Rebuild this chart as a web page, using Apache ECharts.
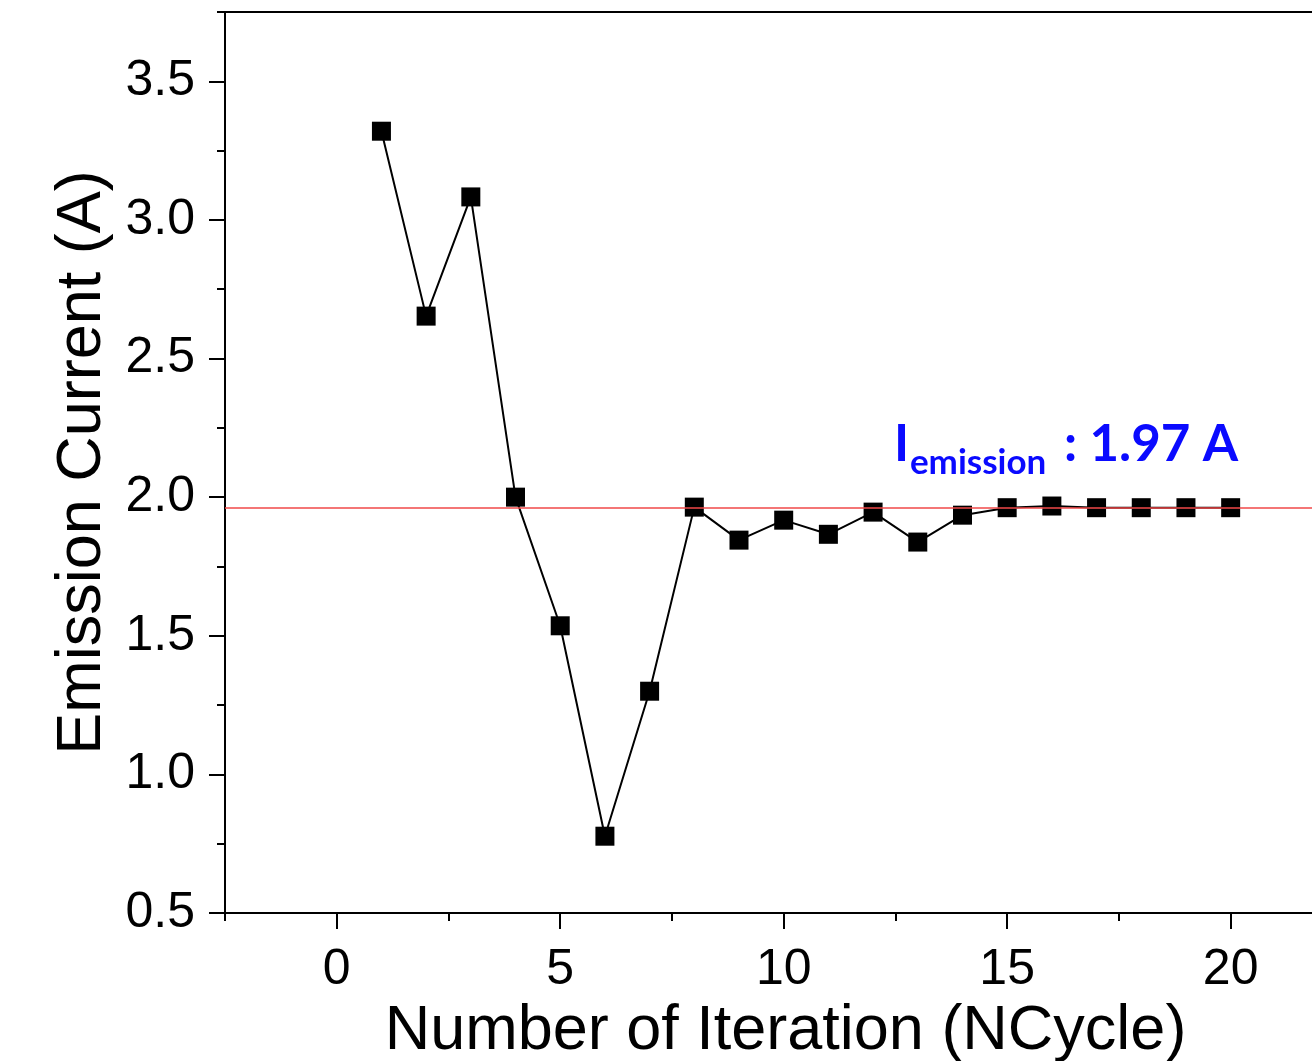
<!DOCTYPE html>
<html>
<head>
<meta charset="utf-8">
<script src="https://cdn.jsdelivr.net/npm/echarts@6/dist/echarts.min.js"></script>
<style>
  html, body { margin: 0; padding: 0; background: #fff; overflow: hidden; }
  #container { width: 1312px; height: 1061px; }
</style>
</head>
<body>
<div id="container"></div>
<script>
var dom = document.getElementById("container");
var myChart = echarts.init(dom);
var option;

// data
var iterations = [1, 2, 3, 4, 5, 6, 7, 8, 9, 10, 11, 12, 13, 14, 15, 16, 17, 18, 19, 20];
var current = [3.32, 2.653, 3.083, 2.0, 1.536, 0.777, 1.30, 1.964, 1.845, 1.917, 1.866, 1.946, 1.838, 1.935, 1.962, 1.968, 1.962, 1.962, 1.962, 1.962];
var emissionLevel = 1.963;
var emissionParts = ["I", "emission", ": 1.97 A"];

var xMajor = [0, 5, 10, 15, 20];
var xMinor = [-2.5, 2.5, 7.5, 12.5, 17.5];
var yMajor = [0.5, 1.0, 1.5, 2.0, 2.5, 3.0, 3.5];
var yMinor = [0.75, 1.25, 1.75, 2.25, 2.75, 3.25, 3.75];

var xMin = -2.5, xMax = 21.82;
var yMin = 0.5, yMax = 3.75;

var points = iterations.map(function (x, i) {
    return [x, current[i]];
});

var font = "Liberation Sans";
var blue = "#0a0aff";
var gridBox = { left: 225, right: 0, top: 12, bottom: 148, outerBoundsMode: "none", containLabel: false };

function noteLabel(text, size) {
    return {
        show: true,
        position: "right",
        distance: 0,
        formatter: text,
        fontFamily: "Lato",
        fontWeight: "bold",
        fontSize: size,
        color: blue,
    };
}

option = {
    backgroundColor: "#fff",
    animation: false,
    textStyle: { fontFamily: font },
    grid: [
        Object.assign({}, gridBox),
        Object.assign({}, gridBox),
    ],
    xAxis: [
        {
            gridIndex: 0,
            type: "value",
            position: "bottom",
            min: xMin,
            max: xMax,
            name: "Number of Iteration (NCycle)",
            nameLocation: "middle",
            nameGap: 84,
            nameTextStyle: { fontSize: 63, color: "#000", fontFamily: font, padding: [0, 0, 0, 34] },
            axisLine: { onZero: false, lineStyle: { color: "#000", width: 2 } },
            axisTick: { inside: false, length: 16, customValues: xMajor, lineStyle: { color: "#000", width: 2 } },
            axisLabel: { customValues: xMajor, margin: 32, fontSize: 50, color: "#000", fontFamily: font },
            splitLine: { show: false },
        },
        {
            gridIndex: 0,
            type: "value",
            position: "top",
            min: xMin,
            max: xMax,
            axisLine: { onZero: false, lineStyle: { color: "#000", width: 2 } },
            axisTick: { show: false },
            axisLabel: { show: false },
            splitLine: { show: false },
        },
        {
            gridIndex: 1,
            type: "value",
            position: "bottom",
            min: xMin,
            max: xMax,
            axisLine: { show: false, onZero: false },
            axisTick: { inside: false, length: 8, customValues: xMinor, lineStyle: { color: "#000", width: 2 } },
            axisLabel: { show: false },
            splitLine: { show: false },
        },
    ],
    yAxis: [
        {
            gridIndex: 0,
            type: "value",
            position: "left",
            min: yMin,
            max: yMax,
            name: "Emission Current (A)",
            nameLocation: "middle",
            nameGap: 110,
            nameTextStyle: { fontSize: 63, color: "#000", fontFamily: font },
            axisLine: { show: true, onZero: false, lineStyle: { color: "#000", width: 2 } },
            axisTick: { show: true, inside: false, length: 16, customValues: yMajor, lineStyle: { color: "#000", width: 2 } },
            axisLabel: {
                customValues: yMajor,
                margin: 30,
                fontSize: 50,
                color: "#000",
                fontFamily: font,
                formatter: function (v) { return v.toFixed(1); },
            },
            splitLine: { show: false },
        },
        {
            gridIndex: 1,
            type: "value",
            position: "left",
            min: yMin,
            max: yMax,
            axisLine: { show: false, onZero: false },
            axisTick: { show: true, inside: false, length: 8, customValues: yMinor, lineStyle: { color: "#000", width: 2 } },
            axisLabel: { show: false },
            splitLine: { show: false },
        },
    ],
    series: [
        {
            type: "line",
            xAxisIndex: 0,
            yAxisIndex: 0,
            data: points,
            symbol: "rect",
            symbolSize: 19,
            itemStyle: { color: "#000" },
            lineStyle: { color: "#000", width: 2 },
            markLine: {
                silent: true,
                symbol: "none",
                z: 5,
                label: { show: false },
                lineStyle: { color: "#f04848", width: 1.5, type: "solid" },
                data: [{ yAxis: emissionLevel }],
            },
            markPoint: {
                silent: true,
                symbol: "circle",
                symbolSize: 0,
                data: [
                    { coord: [12.466, 2.19], label: noteLabel(emissionParts[0], 51) },
                    { coord: [12.824, 2.125], label: noteLabel(emissionParts[1], 35) },
                    { coord: [16.27, 2.19], label: noteLabel(emissionParts[2], 51) },
                ],
            },
        },
    ],
};

if (option && typeof option === "object") {
    myChart.setOption(option);
}
</script>
</body>
</html>
